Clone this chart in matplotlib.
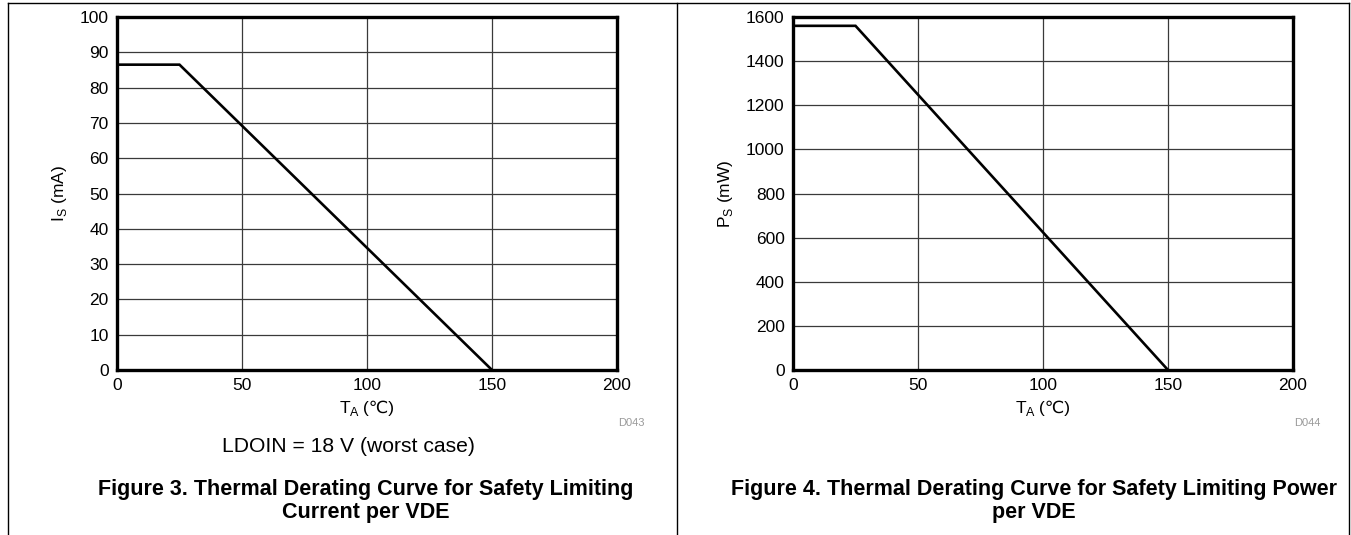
import matplotlib.pyplot as plt
from matplotlib.lines import Line2D

plt.rcParams['font.family'] = ['Liberation Sans', 'DejaVu Sans']

# data
temp = [0, 25, 150]
current_ma = [86.5, 86.5, 0]
power_mw = [1560, 1560, 0]

x_ticks = [0, 50, 100, 150, 200]
i_ticks = [0, 10, 20, 30, 40, 50, 60, 70, 80, 90, 100]
p_ticks = [0, 200, 400, 600, 800, 1000, 1200, 1400, 1600]

W, H = 1351, 535
fig = plt.figure(figsize=(W / 100, H / 100), dpi=100)
renderer = fig.canvas.get_renderer()
fam = ['Liberation Sans', 'DejaVu Sans']


def temp_label(cx, cy):
    # "T_A (℃)" built from pieces so the ℃ sign can come from DejaVu
    pieces = [('T', 12.5, 0), ('A', 9, -3.5), (' (℃)', 12.5, 0)]
    texts = []
    total = 0
    for s, size, dy in pieces:
        t = fig.text(0, 0, s, fontsize=size, family=fam, va='baseline')
        w = t.get_window_extent(renderer).width
        texts.append((t, w, dy))
        total += w
    x = cx - total / 2
    for t, w, dy in texts:
        t.set_position((x / W, 1 - (cy - dy) / H))
        x += w


def setup(ax, yticks, ylabel, code):
    ax.set_xlim(0, 200)
    ax.set_ylim(yticks[0], yticks[-1])
    ax.set_xticks(x_ticks)
    ax.set_yticks(yticks)
    ax.tick_params(length=0, labelsize=12.5, pad=6)
    ax.grid(True, color='#3a3a3a', linewidth=0.9)
    for s in ax.spines.values():
        s.set_linewidth(2.4)
    ax.set_ylabel(ylabel, fontsize=12.5, labelpad=8)
    ax.text(1.028, -0.150, code, transform=ax.transAxes, fontsize=8,
            color='#9a9a9a', ha='center', va='center')


ax1 = fig.add_axes([117 / W, 1 - 370 / H, 500 / W, 353 / H])
ax1.plot(temp, current_ma, color='black', linewidth=1.9, solid_joinstyle='miter')
setup(ax1, i_ticks, 'I$_\\mathregular{S}$ (mA)', 'D043')
temp_label(367, 413)

ax2 = fig.add_axes([793 / W, 1 - 370 / H, 500 / W, 353 / H])
ax2.plot(temp, power_mw, color='black', linewidth=1.9, solid_joinstyle='miter')
setup(ax2, p_ticks, 'P$_\\mathregular{S}$ (mW)', 'D044')
temp_label(1043, 413)

fig.text(348 / W, 1 - 447 / H, 'LDOIN = 18 V (worst case)', fontsize=15.2,
         ha='center', va='center')
fig.text(366 / W, 1 - 501 / H,
         'Figure 3. Thermal Derating Curve for Safety Limiting\nCurrent per VDE',
         fontsize=15.5, fontweight='bold', ha='center', va='center', linespacing=1.08)
fig.text(1034 / W, 1 - 501 / H,
         'Figure 4. Thermal Derating Curve for Safety Limiting Power\nper VDE',
         fontsize=15.5, fontweight='bold', ha='center', va='center', linespacing=1.08)

# page frame lines
for xs, ys in [([8, 1349], [2.5, 2.5]), ([8, 8], [2.5, H]),
               ([677, 677], [2.5, H]), ([1349, 1349], [2.5, H])]:
    fig.add_artist(Line2D([x / W for x in xs], [1 - y / H for y in ys],
                          color='black', linewidth=1))

fig.savefig('out.png', dpi=100)
